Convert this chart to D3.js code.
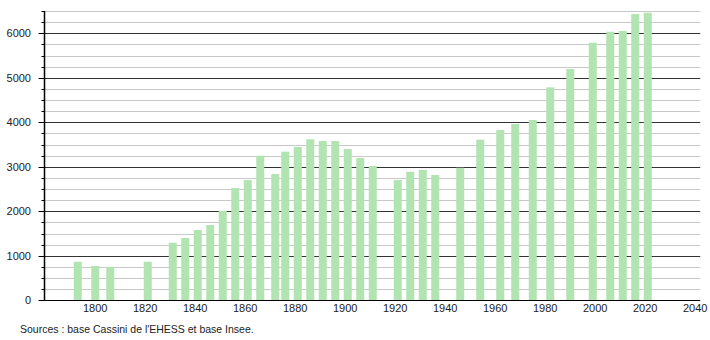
<!DOCTYPE html>
<html>
<head>
<meta charset="utf-8">
<script src="https://cdn.jsdelivr.net/npm/d3@7"></script>
<style>
  html, body { margin: 0; padding: 0; background: #fff; }
  svg { display: block; font-family: "Liberation Sans", Arial, sans-serif; }
</style>
</head>
<body>
<svg id="chart" width="710" height="340"></svg>
<script>
const years = [1793, 1800, 1806, 1821, 1831, 1836, 1841, 1846, 1851, 1856, 1861, 1866, 1872, 1876, 1881, 1886, 1891, 1896, 1901, 1906, 1911, 1921, 1926, 1931, 1936, 1946, 1954, 1962, 1968, 1975, 1982, 1990, 1999, 2006, 2011, 2016, 2021];
const population = [867, 771, 748, 867, 1294, 1400, 1580, 1692, 2013, 2524, 2703, 3250, 2838, 3340, 3445, 3618, 3580, 3580, 3400, 3198, 3018, 2703, 2890, 2928, 2816, 2980, 3610, 3827, 3962, 4052, 4786, 5198, 5789, 6036, 6052, 6434, 6463];
const xTickYears = [1800, 1820, 1840, 1860, 1880, 1900, 1920, 1940, 1960, 1980, 2000, 2020, 2040];
const yMajorTicks = [0, 1000, 2000, 3000, 4000, 5000, 6000];
const yMinorTicks = d3.range(250, 6750, 250).filter(v => v % 1000 !== 0);
const sourceText = "Sources : base Cassini de l'EHESS et base Insee.";

const svg = d3.select("#chart");
const x = d3.scaleLinear().domain([1779.5, 2042]).range([44, 700.25]);
const y = d3.scaleLinear().domain([0, 6500]).range([300.3, 11.1]);
const x0 = x.range()[0], x1 = x.range()[1];

// minor gridlines
svg.append("g").selectAll("line").data(yMinorTicks).join("line")
  .attr("x1", x0).attr("x2", x1)
  .attr("y1", d => Math.round(y(d)) + 0.5).attr("y2", d => Math.round(y(d)) + 0.5)
  .attr("stroke", "#c8c8c8").attr("stroke-width", 1);

// major gridlines
svg.append("g").selectAll("line").data(yMajorTicks.filter(d => d > 0)).join("line")
  .attr("x1", x0).attr("x2", x1)
  .attr("y1", d => Math.round(y(d)) + 0.5).attr("y2", d => Math.round(y(d)) + 0.5)
  .attr("stroke", "#333", ).attr("stroke-width", 1);

// bars
const bw = 8;
svg.append("g").selectAll("rect").data(years).join("rect")
  .attr("x", d => x(d) - bw / 2)
  .attr("width", bw)
  .attr("y", (d, i) => y(population[i]))
  .attr("height", (d, i) => y(0) - y(population[i]))
  .attr("fill", "#b1e4b1");

// y axis minor ticks
svg.append("g").selectAll("line").data(yMinorTicks).join("line")
  .attr("x1", x0 - 2.5).attr("x2", x0)
  .attr("y1", d => Math.round(y(d)) + 0.5).attr("y2", d => Math.round(y(d)) + 0.5)
  .attr("stroke", "#000");

// y axis major ticks and labels
const gy = svg.append("g");
gy.selectAll("line").data(yMajorTicks).join("line")
  .attr("x1", x0 - 5.5).attr("x2", x0)
  .attr("y1", d => Math.round(y(d)) + 0.5).attr("y2", d => Math.round(y(d)) + 0.5)
  .attr("stroke", "#000");
gy.selectAll("text").data(yMajorTicks).join("text")
  .attr("x", 31).attr("y", d => y(d) + 4)
  .attr("text-anchor", "end")
  .attr("font-size", 11).attr("fill", "#222")
  .text(d => d);

// y axis line
svg.append("line")
  .attr("x1", x0 + 0.5).attr("x2", x0 + 0.5)
  .attr("y1", y(6500)).attr("y2", Math.round(y(0)) + 0.5)
  .attr("stroke", "#000").attr("stroke-width", 1.5);

// x axis line
svg.append("line")
  .attr("x1", x0).attr("x2", x1)
  .attr("y1", Math.round(y(0)) + 0.5).attr("y2", Math.round(y(0)) + 0.5)
  .attr("stroke", "#000").attr("stroke-width", 1.2);

// x labels
svg.append("g").selectAll("text").data(xTickYears).join("text")
  .attr("x", d => x(d)).attr("y", 312)
  .attr("text-anchor", "middle")
  .attr("font-size", 11).attr("fill", "#222")
  .text(d => d);

// source
svg.append("text")
  .attr("x", 20).attr("y", 333)
  .attr("font-size", 10.5).attr("fill", "#222")
  .text(sourceText);
</script>
</body>
</html>
